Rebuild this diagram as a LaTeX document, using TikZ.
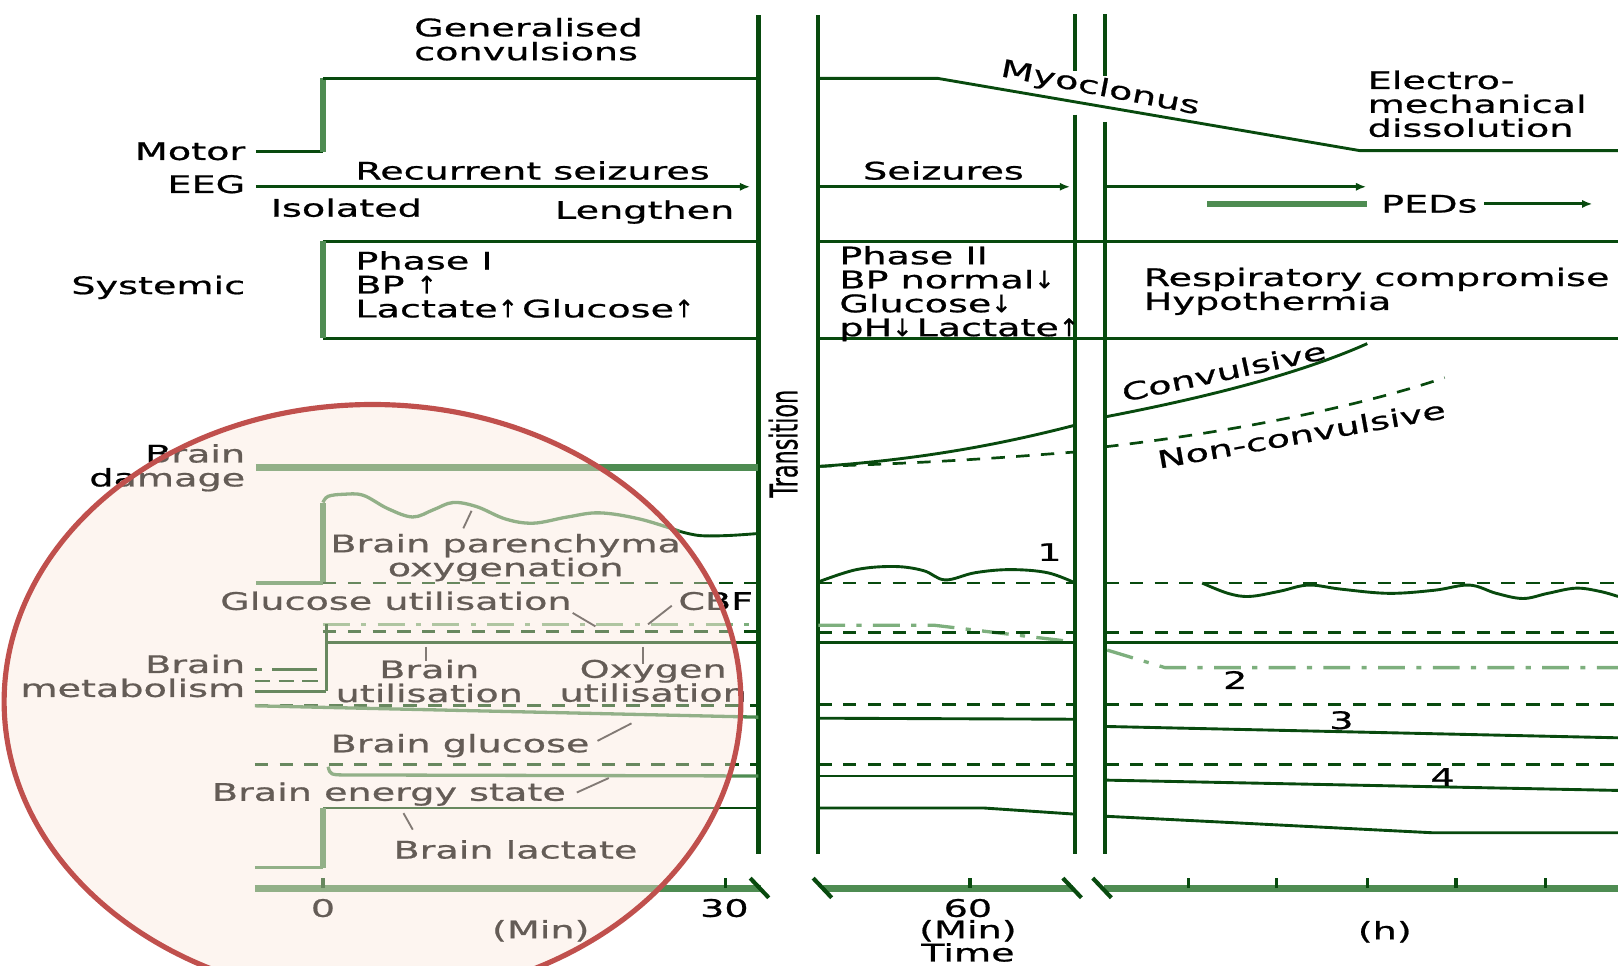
\documentclass[tikz,border=0pt]{standalone}
\usepackage{fontspec}
\setmainfont{DejaVu Sans}[FakeStretch=1.58, FakeBold=0.8]
\newfontfamily\narrowfont{DejaVu Sans}[FakeBold=0.8]
\usepackage{xcolor}
\usepackage{tikz}
\usetikzlibrary{arrows.meta}
\usetikzlibrary{positioning}

\setlength{\lineskiplimit}{-20pt}
\newcommand{\upar}{{\narrowfont↑}}
\newcommand{\dnar}{{\narrowfont↓}}

\definecolor{dkgreen}{RGB}{8,74,14}
\definecolor{midgreen}{RGB}{78,140,82}
\definecolor{lightgreen}{RGB}{125,175,125}
\definecolor{ringred}{RGB}{192,80,77}
\definecolor{peach}{RGB}{250,230,217}

\tikzset{
  lbl/.style={font=\fontsize{11.7}{11.6}\selectfont, inner sep=0pt},
  dk/.style={draw=dkgreen, line width=1.4pt},
  vline/.style={draw=dkgreen, line width=2pt},
  stepline/.style={draw=midgreen, line width=3pt},
  mid/.style={draw=midgreen, line width=1.6pt},
  dsh/.style={draw=dkgreen, line width=1.3pt, dash pattern=on 6.5pt off 5.5pt},
  dshdot/.style={draw=lightgreen, line width=1.6pt, dash pattern=on 13pt off 5.5pt on 2.5pt off 5.5pt},
  lead/.style={draw=black!80, line width=0.9pt},
  tip/.style={-{Latex[length=5pt,width=4pt]}},
  tick/.style={draw=dkgreen, line width=1.5pt},
  brk/.style={draw=dkgreen, line width=2pt}
}

\begin{document}
\begin{tikzpicture}[x=0.5pt,y=-0.5pt]
  \useasboundingbox (0,0) rectangle (1568,936);
  \def\xone{735}   % end of first 30 min
  \def\xtwo{793}   % after transition
  \def\xthree{1042} % break before hours
  \def\xfour{1071}
  \def\xend{1568}

  % time columns
  \draw[vline] (\xone,15) -- (\xone,828);
  \draw[vline] (\xtwo,15) -- (\xtwo,828);
  \draw[vline] (\xthree,14) -- (\xthree,69);
  \draw[vline] (\xthree,111) -- (\xthree,828);
  \draw[vline] (\xfour,14) -- (\xfour,74);
  \draw[vline] (\xfour,118) -- (\xfour,828);

  % motor
  \draw[dk] (248,147) -- (313,147);
  \draw[stepline] (313,147) -- (313,76);
  \draw[dk] (313,76) -- (\xone,76);
  \draw[dk] (\xtwo,76) -- (909,76) -- (1318,146) -- (\xend,146);
  \node[lbl, anchor=north west, align=left] (gen) at (401,17) {Generalised\\convulsions};
  \node[lbl, anchor=base east] (motor) at (238,155) {Motor};
  \node[lbl, rotate=-11] (myo) at (1066,86) {Myoclonus};
  \node[lbl, anchor=north west, align=left] (electro) at (1325,68) {Electro-\\mechanical\\dissolution};

  % EEG
  \draw[dk, tip] (248,181) -- (727,181);
  \draw[dk, tip] (\xtwo,181) -- (1037,181);
  \draw[dk, tip] (\xfour,181) -- (1324,181);
  \draw[stepline] (1170,198) -- (1325,198);
  \node[lbl, anchor=base east] (eeg) at (238,187) {EEG};
  \node[lbl, anchor=base west] (recur) at (344,174) {Recurrent seizures};
  \node[lbl, anchor=base west] (isol) at (262,210) {Isolated};
  \node[lbl, anchor=base east] (lengthen) at (712,212) {Lengthen};
  \node[lbl, anchor=base west] (seiz) at (836,174) {Seizures};
  \node[lbl, anchor=base west] (peds) at (1338,206) {PEDs};
  \draw[dk, tip] ([xshift=3pt]peds.east) -- ++(105,0);

  % systemic
  \draw[dk] (313,234) -- (\xone,234);
  \draw[dk] (313,328) -- (\xone,328);
  \draw[stepline] (313,234) -- (313,328);
  \draw[dk] (\xtwo,234) -- (\xend,234);
  \draw[dk] (\xtwo,328) -- (\xend,328);
  \node[lbl, anchor=base east] (syst) at (238,285) {Systemic};
  \node[lbl, anchor=north west, align=left] (ph1) at (344,243) {Phase I\\BP \upar\\Lactate\upar\,Glucose\upar};
  \node[lbl, anchor=north west, align=left] (ph2) at (813,238) {Phase II\\BP normal\dnar\\Glucose\dnar\\pH\dnar\,Lactate\upar};
  \node[lbl, anchor=north west, align=left] (resp) at (1108,259) {Respiratory compromise\\Hypothermia};

  % brain damage
  \draw[stepline] (248,453) -- (\xone,453);
  \draw[dk] (\xtwo,452) .. controls (900,445) and (980,428) .. (\xthree,412);
  \draw[dsh] (\xtwo,452) .. controls (920,448) and (990,442) .. (\xthree,438);
  \draw[dk] (\xfour,404) .. controls (1170,385) and (1260,362) .. (1325,333);
  \draw[dsh] (\xfour,433) .. controls (1200,418) and (1320,393) .. (1400,366);
  \node[lbl, anchor=north east, align=right] (dmg) at (238,430) {Brain\\damage};
  \node[lbl, rotate=12] (conv) at (1186,360) {Convulsive};
  \node[lbl, rotate=10] (nconv) at (1261,421) {Non-convulsive};
  \node[rotate=90, inner sep=0pt] (trans) at (759,430)
    {\narrowfont\fontsize{10.8}{12}\selectfont\scalebox{1}[1.7]{Transition}};

  % parenchyma oxygenation
  \draw[mid] (248,565) -- (313,565);
  \draw[stepline] (313,565) -- (313,487);
  \draw[mid] plot[smooth, tension=0.6] coordinates {(313,487) (318,481) (333,479) (352,480)
    (376,493) (400,501) (420,494) (439,487) (462,491) (490,503) (517,507) (550,501)
    (581,497) (620,503) (659,515)};
  \draw[dk] plot[smooth, tension=0.6] coordinates {(659,515) (678,519) (705,519) (\xone,517)};
  \draw[dsh] (313,565) -- (\xone,565);
  \draw[dk] plot[smooth, tension=0.6] coordinates {(\xtwo,564) (830,552) (867,549) (895,553)
    (916,562) (945,555) (979,552) (1015,555) (\xthree,565)};
  \draw[dsh] (\xtwo,565) -- (\xthree,565);
  \draw[dsh] (\xfour,565) -- (\xend,565);
  \draw[dk] plot[smooth, tension=0.6] coordinates {(1165,565) (1190,575) (1211,578) (1240,573)
    (1268,567) (1300,571) (1346,575) (1390,572) (1424,567) (1450,575) (1476,580)
    (1500,575) (1527,570) (1550,573) (\xend,578)};
  \node[lbl, anchor=north, align=center] (paren) at (490,517) {Brain parenchyma\\oxygenation};
  \draw[lead] (449,512) -- (457,495);
  \node[lbl] (n1) at (1017,535) {1};

  % glucose utilisation and CBF
  \draw[dshdot] (313,605) -- (\xone,605);
  \draw[dsh] (313,612) -- (\xone,612);
  \draw[dk] (316,623) -- (\xone,623);
  \draw[dk] (316,605) -- (316,670);
  \draw[dshdot] (\xtwo,606) -- (906,606) -- (1040,622);
  \draw[dsh] (\xtwo,613) -- (\xthree,613);
  \draw[dsh] (\xfour,613) -- (\xend,613);
  \draw[dk] (\xtwo,623) -- (\xthree,623);
  \draw[dk] (\xfour,623) -- (\xend,623);
  \draw[dshdot] (1073,630) -- (1129,647) -- (\xend,647);
  \node[lbl, anchor=base west] (gutil) at (213,591) {Glucose utilisation};
  \node[lbl, anchor=base west] (cbf) at (657,591) {CBF};
  \draw[lead] (555,594) -- (577,607);
  \draw[lead] (651,587) -- (628,605);
  \node[lbl] (n2) at (1197,659) {2};

  % brain metabolism
  \draw[dk] (247,649) -- (254,649);
  \draw[dk] (264,649) -- (307,649);
  \draw[dk, dash pattern=on 7.5pt off 4pt] (247,660) -- (316,660);
  \draw[dk] (247,670) -- (316,670);
  \node[lbl, anchor=north east, align=right] (metab) at (238,634) {Brain\\metabolism};
  \node[lbl, anchor=north, align=center] (butil) at (416,639) {Brain\\utilisation};
  \node[lbl, anchor=north, align=center] (outil) at (633,639) {Oxygen\\utilisation};
  \draw[lead] (413,627) -- (413,641);
  \draw[lead] (623,627) -- (623,643);
  \draw[dsh] (247,684) -- (\xone,684);
  \draw[mid] (247,684) -- (\xone,695);
  \draw[dsh] (\xtwo,683) -- (\xthree,683);
  \draw[dsh] (\xfour,683) -- (\xend,683);
  \draw[dk] (\xtwo,696) -- (\xthree,697);
  \draw[dk] (\xfour,704) -- (\xend,715);
  \node[lbl] (n3) at (1300,698) {3};

  % brain glucose
  \draw[dsh] (247,741) -- (\xone,741);
  \draw[mid] (318,743) .. controls (320,751) .. (338,751) -- (\xone,752);
  \draw[dsh] (\xtwo,741) -- (\xthree,741);
  \draw[dsh] (\xfour,741) -- (\xend,741);
  \draw[dk] (\xtwo,752) -- (\xthree,752);
  \draw[dk] (\xfour,756) -- (\xend,766);
  \node[lbl, anchor=base west] (bglu) at (320,729) {Brain glucose};
  \draw[lead] (579,718) -- (612,701);
  \node[lbl] (n4) at (1398,753) {4};

  % energy state and lactate
  \draw[dk] (313,783) -- (\xone,783);
  \draw[stepline] (313,783) -- (313,841);
  \draw[mid] (247,841) -- (313,841);
  \draw[dk] (\xtwo,783) -- (953,783) -- (\xthree,789);
  \draw[dk] (\xfour,791) -- (1388,807) -- (\xend,807);
  \node[lbl, anchor=base west] (energy) at (205,776) {Brain energy state};
  \draw[lead] (559,768) -- (590,754);
  \node[lbl, anchor=base west] (lact) at (381,832) {Brain lactate};
  \draw[lead] (391,788) -- (400,804);

  % time axis
  \draw[stepline] (247,861) -- (737,861);
  \draw[stepline] (798,861) -- (1040,861);
  \draw[stepline] (1070,861) -- (\xend,861);
  \foreach \t in {313,703,940,1152,1237,1325,1411,1498}
    \draw[tick] (\t,851) -- (\t,861);
  \foreach \b in {727,788,1030,1059}
    \draw[brk] (\b,851) -- ++(18,19);
  \node[lbl] (t0) at (313,880) {0};
  \node[lbl] (t30) at (702,880) {30};
  \node[lbl] (minA) at (524,902) {(Min)};
  \node[lbl] (t60) at (938,880) {60};
  \node[lbl] (minB) at (938,902) {(Min)};
  \node[lbl] (time) at (938,923) {Time};
  \node[lbl] (hrs) at (1342,903) {(h)};

  % highlight ring over the first half hour
  \draw[draw=ringred, line width=2.5pt, fill=peach, fill opacity=0.4]
    (361,680) ellipse [x radius=357, y radius=288];
\end{tikzpicture}
\end{document}
